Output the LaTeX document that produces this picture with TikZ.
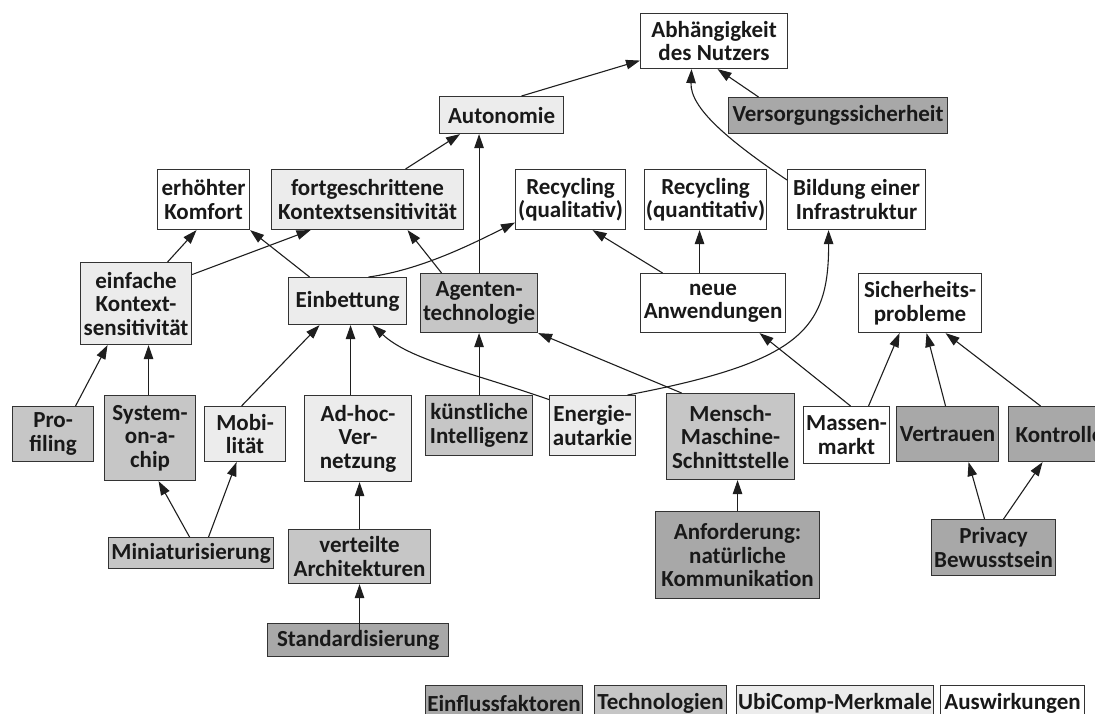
\documentclass[tikz,border=0pt]{standalone}
\usepackage{fontspec}
\setmainfont{Carlito}
\usetikzlibrary{arrows.meta,calc}

\definecolor{fEinfluss}{HTML}{A8A8A8}
\definecolor{fTech}{HTML}{C6C6C6}
\definecolor{fMerkmal}{HTML}{ECECEC}
\definecolor{fWirkung}{HTML}{FFFFFF}
\definecolor{edge}{HTML}{1E1E1E}

% \bx{name}{x1}{y1}{x2}{y2}{fill}{text}: box given by its corners (y grows downward)
\newcommand\bx[7]{%
  \node[box, fill=#6, minimum width={(#4-#2)*1pt}, minimum height={(#5-#3)*1pt}]
    (#1) at (#2,#3) {#7};}

\begin{document}
\begin{tikzpicture}[x=1pt, y=-1pt,
  box/.style={draw=black!80, line width=1.1pt, inner sep=0pt, anchor=north west,
    align=center, text=black!90, font=\bfseries\fontsize{23}{23.5}\selectfont},
  arr/.style={draw=edge, line width=1.1pt, -{Triangle[length=14pt,width=9.5pt]}}]

\useasboundingbox (0,0) rectangle (1095,713);

% Auswirkungen
\bx{abh}{640}{13}{787}{68}{fWirkung}{Abhängigkeit\\des Nutzers}
\bx{komf}{157}{169}{249}{229}{fWirkung}{erhöhter\\Komfort}
\bx{recql}{515}{169}{625}{229}{fWirkung}{Recycling\\(qualitativ)}
\bx{recqn}{644}{169}{766}{229}{fWirkung}{Recycling\\(quantitativ)}
\bx{bild}{787}{169}{925}{229}{fWirkung}{Bildung einer\\Infrastruktur}
\bx{neu}{640}{273}{785}{332}{fWirkung}{neue\\Anwendungen}
\bx{sich}{858}{273}{981}{332}{fWirkung}{Sicherheits-\\probleme}
\bx{mass}{803}{406}{889}{463}{fWirkung}{Massen-\\markt}

% UbiComp-Merkmale
\bx{auto}{439}{96}{563}{133}{fMerkmal}{Autonomie}
\bx{fks}{271}{169}{463}{229}{fMerkmal}{fortgeschrittene\\Kontextsensitivität}
\bx{eks}{80}{262}{191}{344}{fMerkmal}{einfache\\Kontext-\\sensitivität}
\bx{einb}{288}{277}{406}{324}{fMerkmal}{Einbettung}
\bx{mob}{204}{406}{285}{461}{fMerkmal}{Mobi-\\lität}
\bx{adhoc}{304}{395}{411}{481}{fMerkmal}{Ad-hoc-\\Ver-\\netzung}
\bx{energ}{549}{395}{635}{455}{fMerkmal}{Energie-\\autarkie}

% Technologien
\bx{agent}{420}{273}{537}{332}{fTech}{Agenten-\\technologie}
\bx{prof}{12}{406}{93}{461}{fTech}{Pro-\\filing}
\bx{soc}{104}{395}{195}{480}{fTech}{System-\\on-a-\\chip}
\bx{ki}{425}{395}{532}{455}{fTech}{künstliche\\Intelligenz}
\bx{mms}{666}{393}{794}{479}{fTech}{Mensch-\\Maschine-\\Schnittstelle}
\bx{mini}{108}{537}{273}{568}{fTech}{Miniaturisierung}
\bx{vta}{288}{529}{430}{583}{fTech}{verteilte\\Architekturen}

% Einflussfaktoren
\bx{vers}{728}{97}{947}{133}{fEinfluss}{Versorgungssicherheit}
\bx{vert}{896}{406}{998}{461}{fEinfluss}{Vertrauen}
\bx{kontr}{1008}{406}{1110}{461}{fEinfluss}{Kontrolle}
\bx{std}{267}{623}{448}{656}{fEinfluss}{Standardisierung}
\bx{anf}{655}{511}{819}{598}{fEinfluss}{Anforderung:\\natürliche\\Kommunikation}
\bx{priv}{931}{519}{1055}{575}{fEinfluss}{Privacy\\Bewusstsein}

% Legende
\bx{lgE}{425}{685}{582}{721}{fEinfluss}{Einflussfaktoren}
\bx{lgT}{594}{685}{726}{721}{fTech}{Technologien}
\bx{lgM}{736}{685}{933}{721}{fMerkmal}{UbiComp-Merkmale}
\bx{lgA}{940}{685}{1084}{721}{fWirkung}{Auswirkungen}

% Verbindungen
\draw[arr] ([xshift=20pt]auto.north) -- ([yshift=-19.5pt]abh.west);
\draw[arr] ([xshift=-79.5pt]vers.north) -- ([xshift=3.5pt]abh.south);
\draw[arr] ([yshift=-11pt]bild.north west) .. controls (728,140) and (690,108) .. ([xshift=-22.5pt]abh.south);
\draw[arr] ([xshift=38pt]fks.north) -- ([xshift=-41.5pt]auto.south);
\draw[arr] (agent.north) -- (agent.north |- auto.south);
\draw[arr] ([xshift=-37.5pt]agent.north) -- ([xshift=40pt]fks.south);
\draw[arr] ([xshift=-38pt]einb.north) -- (komf.south east);
\draw[arr] ([xshift=21pt]einb.north) .. controls (420,270) and (470,245) .. ([yshift=-23pt]recql.west);
\draw[arr] ([xshift=31.5pt]eks.north) -- ([xshift=-7pt]komf.south);
\draw[arr] ([yshift=29pt]eks.east) -- ([xshift=-57pt]fks.south);
\draw[arr] ([xshift=-50.5pt]neu.north) -- ([xshift=22pt]recql.south);
\draw[arr] ([xshift=-13.5pt]neu.north) -- ([xshift=-13.5pt]neu.north |- recqn.south);
\draw[arr] ([xshift=35pt]energ.north) .. controls (800,362) and (829,330) .. ([xshift=-28pt]bild.south);
\draw[arr] ([yshift=26pt]energ.west) .. controls (470,372) and (410,360) .. ([xshift=25pt]einb.south);
\draw[arr] ([xshift=-49pt]mms.north) -- (agent.south east);
\draw[arr] (ki.north) -- (agent.south);
\draw[arr] ([xshift=4pt]mass.north) -- ([xshift=46.5pt]neu.south);
\draw[arr] ([xshift=22pt]mass.north) -- ([xshift=-20.5pt]sich.south);
\draw[arr] ([xshift=-2pt]vert.north) -- ([xshift=6.5pt]sich.south);
\draw[arr] ([xshift=-19pt]kontr.north) -- ([xshift=25.5pt]sich.south);
\draw[arr] ([xshift=-9pt]priv.north) -- ([xshift=21pt]vert.south);
\draw[arr] ([xshift=10pt]priv.north) -- ([xshift=-17pt]kontr.south);
\draw[arr] (anf.north) -- (anf.north |- mms.south);
\draw[arr] ([xshift=-3.5pt]mob.north) -- ([xshift=-28pt]einb.south);
\draw[arr] ([xshift=-7.5pt]adhoc.north) -- ([xshift=-7.5pt]adhoc.north |- einb.south);
\draw[arr] ([xshift=22.5pt]prof.north) -- ([xshift=-28.5pt]eks.south);
\draw[arr] ([xshift=-1.5pt]soc.north) -- ([xshift=-1.5pt]soc.north |- eks.south);
\draw[arr] ([xshift=-1.5pt]mini.north) -- ([xshift=8.5pt]soc.south);
\draw[arr] ([xshift=17.5pt]mini.north) -- ([xshift=-8.5pt]mob.south);
\draw[arr] (vta.north) -- (vta.north |- adhoc.south);
\draw[arr] ([yshift=-10pt]std.north -| vta.south) -- (vta.south);

\end{tikzpicture}
\end{document}
